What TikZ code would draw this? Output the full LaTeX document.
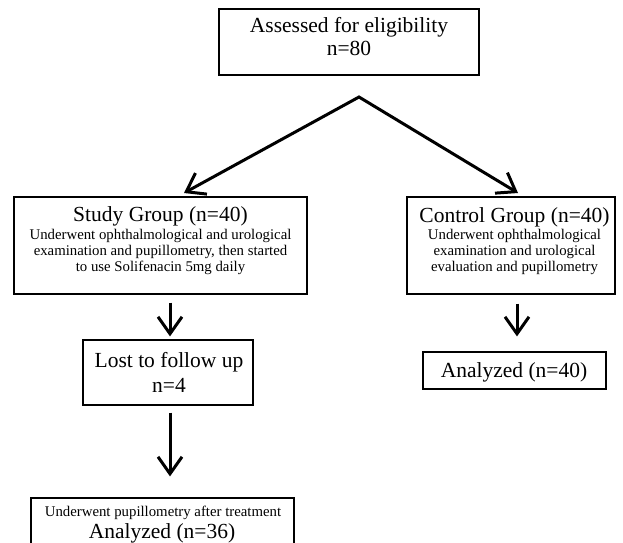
\documentclass[tikz,border=0pt]{standalone}
\usepackage{fontspec}
\setmainfont{Liberation Serif}
\usetikzlibrary{arrows.meta}
\begin{document}
\begin{tikzpicture}[x=1pt,y=-1pt,
  box/.style={draw=black,line width=1.2pt,rectangle,inner sep=0pt,fill=none},
  big/.style={anchor=base,inner sep=0pt,font=\fontsize{21.5}{24}\selectfont},
  small/.style={anchor=base,inner sep=0pt,font=\fontsize{14.8}{16}\selectfont},
  arr/.style={line width=3pt,-{Straight Barb[length=17pt,width=24pt,line width=3pt]}},
  arr2/.style={line width=3pt,line join=miter,{Straight Barb[length=17pt,width=24pt,line width=3pt]}-{Straight Barb[length=17pt,width=24pt,line width=3pt]}}]
\useasboundingbox (0,0) rectangle (623,542);
% boxes
\node[box,minimum width=260pt,minimum height=66pt] (top) at (349,42) {};
\node[box,minimum width=293pt,minimum height=97pt] (study) at (160.5,245.5) {};
\node[box,minimum width=208pt,minimum height=97pt] (control) at (511,245.5) {};
\node[box,minimum width=170pt,minimum height=65pt] (lost) at (168,372.5) {};
\node[box,minimum width=183pt,minimum height=37pt] (an40) at (514.5,370.5) {};
\node[box,minimum width=263pt,minimum height=62pt] (an36) at (162.5,529) {};
% texts
\node[big] (t1) at (349,32) {Assessed for eligibility};
\node[big] (t2) at (349,55) {n=80};
\node[big] (s0) at (160.5,221) {Study Group (n=40)};
\node[small] (s1) at (160.5,239) {Underwent ophthalmological and urological};
\node[small] (s2) at (160.5,255) {examination and pupillometry, then started};
\node[small] (s3) at (160.5,271) {to use Solifenacin 5mg daily};
\node[big] (c0) at (514.5,222) {Control Group (n=40)};
\node[small] (c1) at (514.5,239) {Underwent ophthalmological};
\node[small] (c2) at (514.5,255) {examination and urological};
\node[small] (c3) at (514.5,271) {evaluation and pupillometry};
\node[big] (l0) at (169,367) {Lost to follow up};
\node[big] (l1) at (169,392) {n=4};
\node[big] (a40) at (514,377) {Analyzed (n=40)};
\node[small] (b1) at (163,516) {Underwent pupillometry after treatment};
\node[big] (b2) at (162,538) {Analyzed (n=36)};
% connectors
\coordinate (apex) at (359,97);
\coordinate (tipL) at (184,193);
\coordinate (tipR) at (518,193);
\draw[arr2] (tipL) -- (apex) -- (tipR);
\draw[arr] ([yshift=-8pt]study.south -| 170,0) -- ([yshift=3pt]lost.north -| 170,0);
\draw[arr] ([yshift=-7pt]lost.south -| 170,0) -- ([yshift=21pt]an36.north -| 170,0);
\draw[arr] ([yshift=-9pt]control.south -| 517,0) -- ([yshift=15pt]an40.north -| 517,0);
\end{tikzpicture}
\end{document}
